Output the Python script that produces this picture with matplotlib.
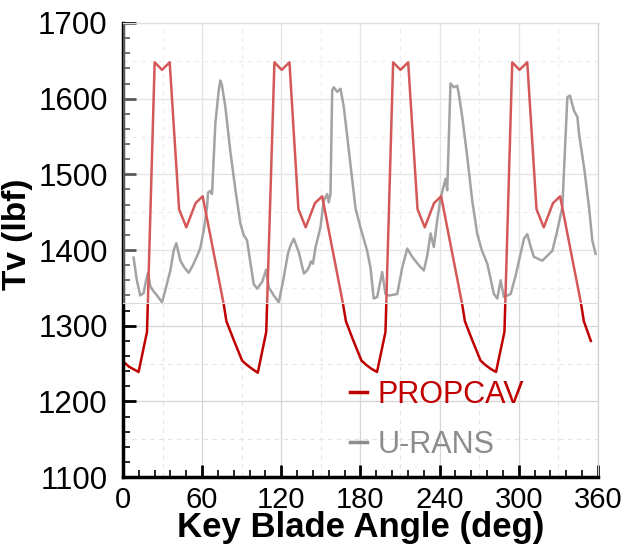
import matplotlib
matplotlib.use("Agg")
import matplotlib.pyplot as plt
import numpy as np

# PROPCAV thrust (key blade angle in deg, Tv in lbf)
propcav_angle = [0, 4.5, 11.8, 18.2, 24.0, 29.6, 35.4, 42.5, 48.0, 55.0, 60.4, 76.3, 78.4, 84.0, 90.3, 94.1,
                 98.0, 102.2, 108.6, 114.8, 120.3, 126.2, 133.0, 138.5, 145.5, 151.0, 166.8, 169.0, 174.5,
                 180.8, 184.6, 188.5, 192.6, 199.0, 204.8, 210.4, 216.2, 223.3, 228.8, 235.8, 241.2, 257.1,
                 259.2, 264.8, 271.1, 274.9, 278.8, 282.8, 289.2, 295.1, 300.6, 306.5, 313.5, 319.0, 326.0,
                 331.4, 347.3, 349.4, 354.7]
propcav_tv = [1253, 1246, 1239, 1292, 1648, 1638, 1648, 1454, 1430, 1462, 1471, 1329, 1306, 1281, 1254, 1248,
              1243, 1238, 1292, 1648, 1638, 1648, 1454, 1430, 1462, 1471, 1329, 1306, 1281,
              1254, 1248, 1243, 1239, 1292, 1648, 1638, 1648, 1454, 1430, 1462, 1471, 1329,
              1306, 1281, 1254, 1248, 1243, 1239, 1292, 1648, 1638, 1648, 1454, 1430, 1462,
              1471, 1329, 1306, 1280]

# U-RANS thrust
urans_angle = [8.0, 10.5, 13.1, 15.6, 17.5, 19.0, 20.7, 23.0, 25.8, 29.6, 32.5, 35.9, 38.5, 40.4, 43.5,
               46.5, 49.8, 53.0, 56.1, 58.5, 61.2, 63.7, 64.5, 66.0, 67.5, 70.0, 72.5, 73.8, 75.0, 77.6,
               81.4, 85.2, 89.0, 91.5, 94.0, 99.1, 101.7, 105.5, 108.5, 110.5, 114.3, 118.1, 121.9, 125.0,
               127.0, 129.5, 133.3, 137.1, 139.0, 140.9, 142.5, 144.0, 146.0, 148.0, 149.7, 152.2, 154.8,
               156.0, 157.3, 158.6, 159.8, 162.4, 164.9, 167.4, 171.2, 176.3, 180.0, 185.1, 187.6, 190.1,
               192.7, 196.5, 199.0, 201.5, 205.0, 207.9, 211.7, 215.5, 219.3, 224.3, 228.1, 230.7, 233.2,
               235.7, 238.2, 240.7, 244.5, 245.8, 248.3, 250.9, 253.4, 254.6, 257.2, 261.0, 264.8, 268.6,
               272.0, 276.2, 281.2, 283.8, 286.3, 288.8, 293.9, 297.5, 301.4, 304.0, 306.5, 309.0, 311.5,
               317.9, 325.5, 329.3, 333.1, 336.9, 338.9, 341.9, 344.5, 345.7, 349.5, 353.3, 355.8, 358.3]
urans_tv = [1390, 1360, 1340, 1343, 1360, 1370, 1352, 1346, 1340, 1331, 1350, 1373, 1400, 1409, 1386,
            1377, 1370, 1380, 1392, 1402, 1426, 1457, 1476, 1478, 1474, 1567, 1610, 1624, 1618, 1589,
            1530, 1480, 1435, 1420, 1413, 1355, 1349, 1358, 1374, 1351, 1340, 1331, 1364, 1395,
            1406, 1415, 1397, 1369, 1372, 1377, 1385, 1382, 1404, 1418, 1430, 1465, 1474,
            1463, 1474, 1611, 1615, 1609, 1613, 1589, 1532, 1455, 1430, 1399, 1377, 1336,
            1338, 1371, 1342, 1340, 1341, 1342, 1377, 1402, 1391, 1380, 1373, 1393, 1422,
            1404, 1439, 1468, 1494, 1479, 1620, 1615, 1617, 1606, 1576, 1523, 1465, 1421,
            1400, 1382, 1342, 1336, 1360, 1338, 1342, 1365, 1395, 1415, 1421, 1405, 1391,
            1386, 1399, 1426, 1457, 1602, 1604, 1584, 1576, 1554, 1510, 1457, 1413, 1395]

x_ticks = [0, 60, 120, 180, 240, 300, 360]
y_ticks = [1100, 1200, 1300, 1400, 1500, 1600, 1700]

red = '#c00000'
grey = '#737373'

fig = plt.figure(figsize=(6.26, 5.46), dpi=100)
ax = fig.add_axes([0.1965, 0.126, 0.7585, 0.832])

# grid
for xv in range(30, 360, 30):
    ax.axvline(xv, color='#e4e4e4', lw=0.8, ls=(0, (4, 4)), zorder=0)
for yv in range(1150, 1700, 50):
    ax.axhline(yv, color='#e4e4e4', lw=0.8, ls=(0, (4, 4)), zorder=0)
ax.grid(True, which='major', color='#d6d6d6', lw=0.9, zorder=0)

ax.plot(urans_angle, urans_tv, color=grey, lw=1.8, label='U-RANS', zorder=2)
ax.plot(propcav_angle, propcav_tv, color=red, lw=1.8, label='PROPCAV', zorder=2)

# washed out upper part, as in the source figure
ax.axhspan(1330, 1700, color='white', alpha=0.35, lw=0, zorder=3)
ax.axhline(1330, color='#dddddd', lw=0.8, zorder=3)

ax.set_xlim(0, 360)
ax.set_ylim(1100, 1700)
ax.set_xticks(x_ticks)
ax.set_yticks(y_ticks)
ax.set_xticks(np.arange(0, 361, 12), minor=True)
ax.set_yticks(np.arange(1100, 1701, 20), minor=True)
ax.tick_params(which='major', direction='in', length=9, width=2, top=False, right=False)
ax.tick_params(which='minor', direction='in', length=5, width=1.2, top=False, right=False)
ax.tick_params(axis='x', pad=6)
ax.tick_params(axis='y', pad=11)

for lab in ax.get_xticklabels():
    lab.set_family(['Liberation Sans', 'DejaVu Sans'])
    lab.set_fontsize(21)
for lab in ax.get_yticklabels():
    lab.set_family(['Liberation Sans', 'DejaVu Sans'])
    lab.set_fontsize(22.5)

ax.spines['left'].set_linewidth(2.5)
ax.spines['bottom'].set_linewidth(2.5)
ax.spines['top'].set_color('#d0d0d0')
ax.spines['right'].set_color('#d0d0d0')
ax.spines['top'].set_linewidth(0.9)
ax.spines['right'].set_linewidth(0.9)

ax.set_xlabel('Key Blade Angle (deg)', fontsize=25, fontweight='bold', family='Liberation Sans', labelpad=-2)
ax.set_ylabel('Tv (lbf)', fontsize=24, fontweight='bold', family='Liberation Sans')
ax.yaxis.set_label_coords(-0.19, 0.535)

handles, labels = ax.get_legend_handles_labels()
leg = ax.legend(handles[::-1], labels[::-1], loc='lower left', bbox_to_anchor=(0.42, -0.022),
                frameon=False, handlelength=0.55, handletextpad=0.35,
                labelspacing=0.65, prop={'family': 'Liberation Sans', 'size': 22})
leg_colors = [red, '#8c8c8c']
for line, txt, c in zip(leg.get_lines(), leg.get_texts(), leg_colors):
    line.set_linewidth(2.5)
    line.set_color(c)
    txt.set_color(c)

fig.savefig('out.png', dpi=100)
